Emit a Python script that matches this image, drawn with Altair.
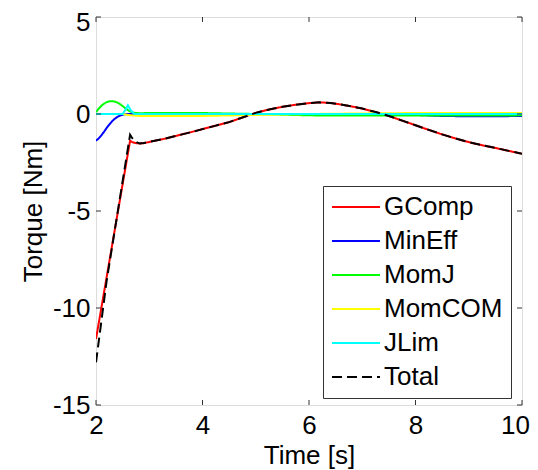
import altair as alt
import pandas as pd

# ---- data ----
series_names = ["GComp", "MinEff", "MomJ", "MomCOM", "JLim", "Total"]
series_colors = ["#ff0000", "#0000ff", "#00ff00", "#ffff00", "#00ffff", "#000000"]

gcomp_t = [2.0, 2.64, 2.68, 2.75, 2.82, 2.9, 3.0, 3.25, 3.5, 3.75, 4.0, 4.25, 4.5, 4.75, 5.0, 5.25, 5.5,
           5.75, 6.0, 6.2, 6.4, 6.6, 6.8, 7.0, 7.25, 7.5, 7.75, 8.0, 8.25, 8.5, 8.75, 9.0, 9.25, 9.5, 9.75, 10.0]
gcomp_v = [-11.6, -1.38, -1.45, -1.5, -1.52, -1.5, -1.44, -1.3, -1.13, -0.96, -0.78, -0.6, -0.42, -0.18, 0.06,
           0.23, 0.37, 0.48, 0.56, 0.6, 0.57, 0.49, 0.39, 0.28, 0.1, -0.1, -0.34, -0.58, -0.82, -1.05, -1.26,
           -1.45, -1.61, -1.75, -1.9, -2.05]

mineff_t = [2.0, 2.05, 2.1, 2.15, 2.2, 2.25, 2.3, 2.35, 2.4, 2.45, 2.5, 2.55, 2.6, 3.0, 5.0, 7.5, 8.0, 8.5,
            9.0, 9.5, 10.0]
mineff_v = [-1.38, -1.26, -1.1, -0.92, -0.72, -0.54, -0.38, -0.25, -0.15, -0.08, -0.04, -0.01, 0.0, 0.0, 0.0,
            0.0, -0.05, -0.1, -0.12, -0.12, -0.1]

momj_t = [2.0, 2.05, 2.1, 2.15, 2.2, 2.25, 2.3, 2.35, 2.4, 2.45, 2.5, 2.55, 2.6, 2.65, 2.7, 2.8, 3.0, 4.0,
          5.0, 6.0, 7.0, 8.0, 9.0, 10.0]
momj_v = [0.1, 0.27, 0.42, 0.53, 0.61, 0.65, 0.66, 0.64, 0.59, 0.51, 0.41, 0.3, 0.2, 0.12, 0.07, 0.04, 0.05,
          0.05, 0.0, -0.07, -0.08, -0.08, -0.08, -0.07]

momcom_t = [2.0, 2.5, 2.6, 2.8, 3.0, 4.0, 5.0, 6.0, 7.0, 8.0, 9.0, 10.0]
momcom_v = [0.0, 0.0, -0.05, -0.1, -0.1, -0.1, -0.05, 0.0, 0.03, 0.05, 0.05, 0.05]

jlim_t = [2.0, 2.5, 2.55, 2.6, 2.65, 2.72, 5.0, 10.0]
jlim_v = [0.0, 0.0, 0.2, 0.45, 0.2, 0.0, 0.0, 0.0]

total_t = [2.0, 2.2, 2.64, 2.67, 2.72, 2.78, 2.82, 2.9, 3.0, 3.25, 3.5, 3.75, 4.0, 4.25, 4.5, 4.75, 5.0, 5.25,
           5.5, 5.75, 6.0, 6.2, 6.4, 6.6, 6.8, 7.0, 7.25, 7.5, 7.75, 8.0, 8.25, 8.5, 8.75, 9.0, 9.25, 9.5,
           9.75, 10.0]
total_v = [-12.8, -8.6, -1.07, -1.2, -1.38, -1.48, -1.52, -1.5, -1.44, -1.3, -1.13, -0.96, -0.78, -0.6, -0.42,
           -0.18, 0.06, 0.23, 0.37, 0.48, 0.56, 0.6, 0.57, 0.49, 0.39, 0.28, 0.1, -0.1, -0.34, -0.58, -0.82,
           -1.05, -1.26, -1.45, -1.61, -1.75, -1.9, -2.05]

x_ticks = [2, 4, 6, 8, 10]
y_ticks = [-15, -10, -5, 0, 5]

# ---- build table ----
rows = []
for name, ts, vs in [("GComp", gcomp_t, gcomp_v), ("MinEff", mineff_t, mineff_v),
                     ("MomJ", momj_t, momj_v), ("MomCOM", momcom_t, momcom_v),
                     ("JLim", jlim_t, jlim_v), ("Total", total_t, total_v)]:
    for t, v in zip(ts, vs):
        rows.append({"series": name, "t": t, "v": v})
df = pd.DataFrame(rows)

W, H = 426, 388
FONT = "Liberation Sans"
FS = 26

xscale = alt.Scale(domain=[2, 10], nice=False, zero=False)
yscale = alt.Scale(domain=[-15, 5], nice=False, zero=False)

leg = alt.Legend(
    orient="none", legendX=227, legendY=169, title=None,
    symbolType="stroke", symbolSize=2304, symbolStrokeWidth=2,
    labelFontSize=FS, labelFont=FONT, labelColor="black", labelOffset=3,
    strokeColor="#333333", fillColor="white", padding=8,
    clipHeight=26, rowPadding=8, labelLimit=300,
)
color = alt.Color("series:N", scale=alt.Scale(domain=series_names, range=series_colors), legend=leg)
dash = alt.StrokeDash(
    "series:N",
    scale=alt.Scale(domain=series_names, range=[[1, 0], [1, 0], [1, 0], [1, 0], [1, 0], [10, 5]]),
    legend=leg,
)

xaxis = alt.Axis(values=x_ticks, title="Time [s]", grid=False, domain=False, ticks=False,
                 tickSize=0, labelPadding=7, labelFontSize=FS, labelFont=FONT,
                 labelColor="black", titleFontSize=FS, titleFont=FONT, titleFontWeight="normal",
                 titleColor="black", titleBaseline="alphabetic", titleY=58, labelFlush=False,
                 labelExpr="'' + datum.value",
                 labelOffset=alt.condition("datum.value == 10", alt.value(-7), alt.value(0)))
yaxis = alt.Axis(values=y_ticks, title="Torque [Nm]", grid=False, domain=False, ticks=False,
                 tickSize=0, labelPadding=6, labelFontSize=FS, labelFont=FONT,
                 labelColor="black", titleFontSize=FS, titleFont=FONT, titleFontWeight="normal",
                 titleColor="black", titleBaseline="alphabetic", titleX=-55, labelFlush=False,
                 labelExpr="'' + datum.value",
                 labelOffset=alt.condition("datum.value == 5", alt.value(5), alt.value(0)))

base = alt.Chart(df)
layers = []
for i, name in enumerate(series_names):
    layers.append(
        base.transform_filter(alt.datum.series == name)
        .mark_line(strokeWidth=2, clip=True)
        .encode(
            x=alt.X("t:Q", scale=xscale, axis=xaxis),
            y=alt.Y("v:Q", scale=yscale, axis=yaxis),
            color=color,
            strokeDash=dash,
        )
    )

xt = pd.DataFrame({"t": x_ticks})
yt = pd.DataFrame({"v": y_ticks})
tick_col = "#333333"
tb = alt.Chart(xt).mark_rule(color=tick_col, strokeWidth=1).encode(
    x=alt.X("t:Q", scale=xscale, axis=xaxis), y=alt.value(H), y2=alt.value(H - 5))
tt = alt.Chart(xt).mark_rule(color=tick_col, strokeWidth=1).encode(
    x=alt.X("t:Q", scale=xscale, axis=xaxis), y=alt.value(0), y2=alt.value(5))
tl = alt.Chart(yt).mark_rule(color=tick_col, strokeWidth=1).encode(
    y=alt.Y("v:Q", scale=yscale, axis=yaxis), x=alt.value(0), x2=alt.value(5))
tr = alt.Chart(yt).mark_rule(color=tick_col, strokeWidth=1).encode(
    y=alt.Y("v:Q", scale=yscale, axis=yaxis), x=alt.value(W), x2=alt.value(W - 5))

chart = alt.layer(*layers, tb, tt, tl, tr).properties(
    width=W, height=H,
    autosize=alt.AutoSizeParams(type="none"),
    padding={"left": 88, "top": 9, "right": 8, "bottom": 65},
).configure_view(stroke="#333333", strokeWidth=1).configure(background="white")

chart.save("out.html", embed_options={"renderer": "svg", "actions": False})
